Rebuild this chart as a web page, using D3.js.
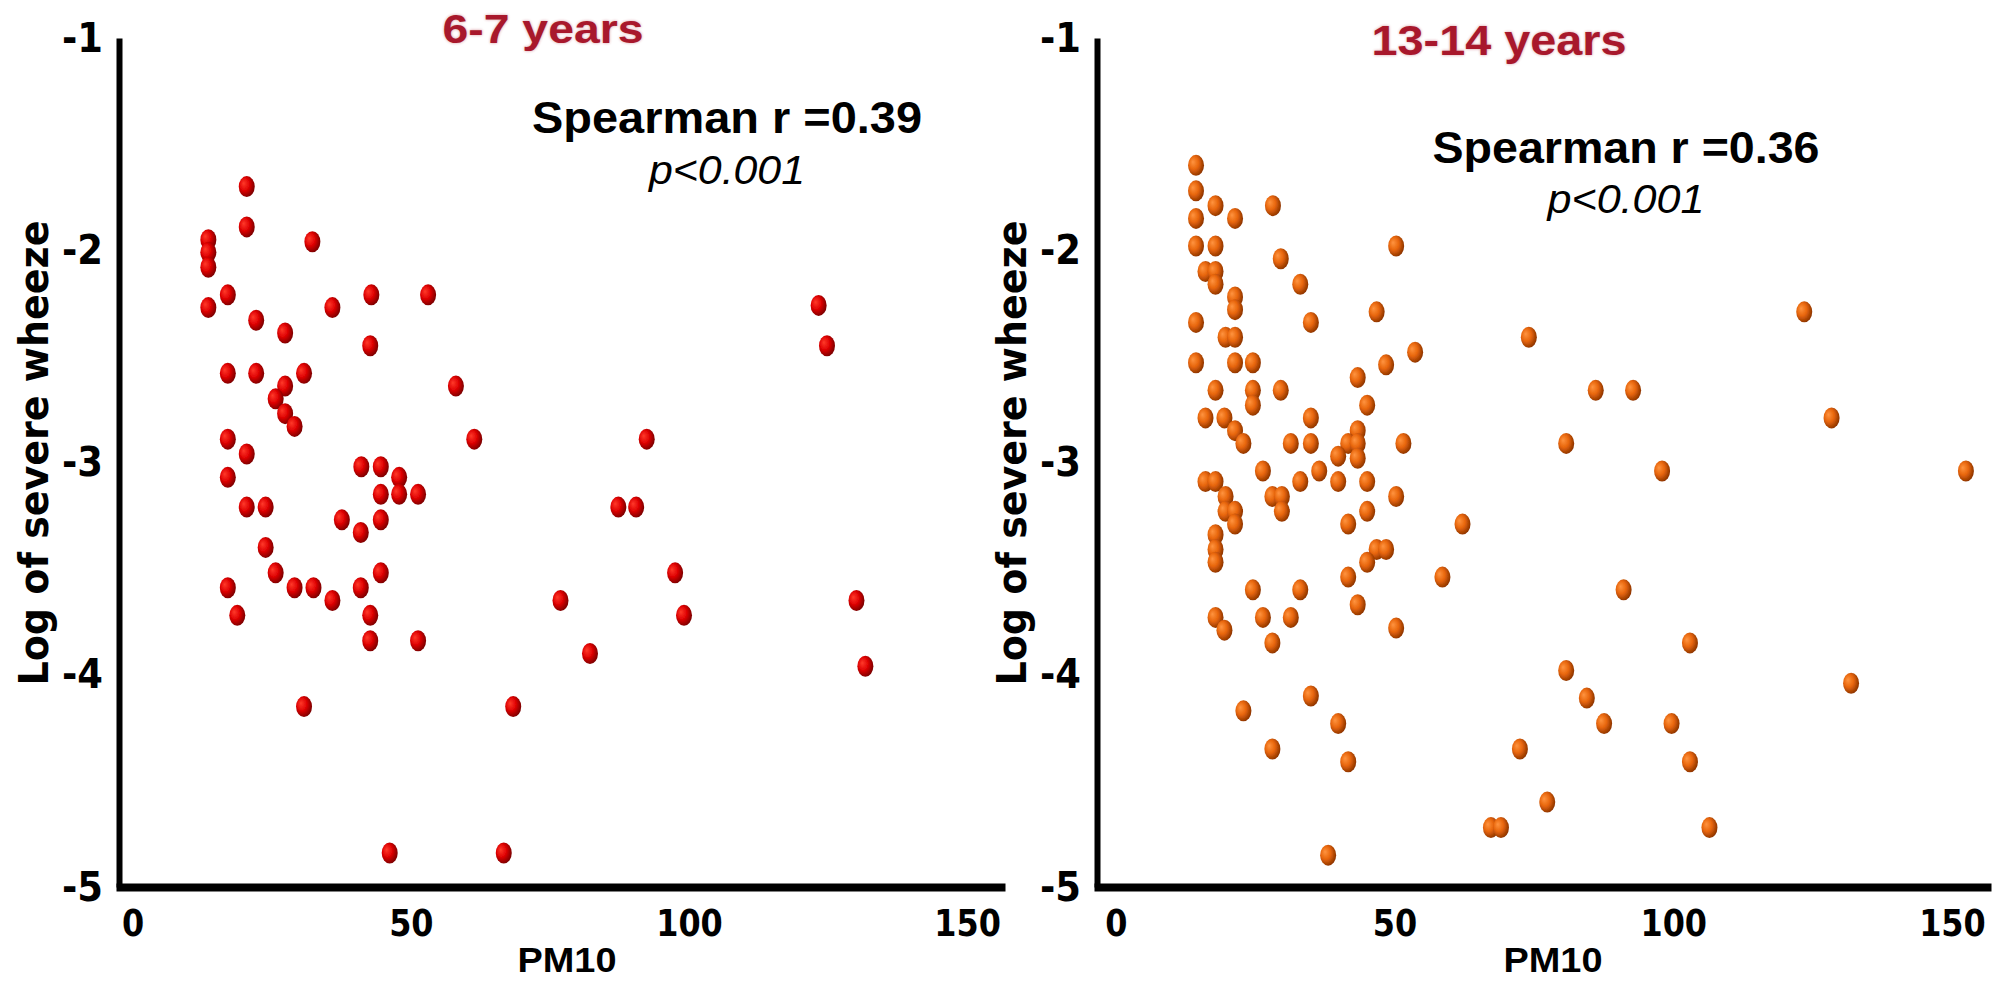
<!DOCTYPE html>
<html>
<head>
<meta charset="utf-8">
<script src="https://cdn.jsdelivr.net/npm/d3@7/dist/d3.min.js"></script>
<style>
  html, body { margin: 0; padding: 0; background: #ffffff; }
  svg { display: block; }
</style>
</head>
<body>
<svg id="chart" width="2005" height="984"></svg>
<script>
// PM10 against log of severe wheeze, two age groups

const panelTitles = ["6-7 years", "13-14 years"];
const spearmanLabels = ["Spearman r =0.39", "Spearman r =0.36"];
const pLabels = ["p<0.001", "p<0.001"];
const xTicks = [0, 50, 100, 150];
const yTicks = [-1, -2, -3, -4, -5];
const xTitle = "PM10";
const yTitle = "Log of severe wheeze";

// 6-7 years
const pm10Young = [
  20.5, 20.5, 13.6, 13.6, 13.6, 32.3, 17.1, 13.6, 42.9, 53.1,
  35.9, 22.2, 27.4, 42.7, 123.3, 124.8, 17.1, 22.2, 30.8, 27.4,
  25.7, 27.4, 29.1, 58.1, 17.1, 61.4, 92.4, 20.5, 41.1, 44.6,
  47.9, 17.1, 44.6, 47.9, 51.3, 20.5, 23.9, 87.3, 90.5, 37.6,
  44.6, 41.0, 23.9, 44.6, 25.7, 97.5, 17.1, 29.1, 32.5, 41.0,
  35.9, 76.9, 130.1, 18.8, 42.7, 99.1, 42.7, 51.3, 82.2, 131.7,
  30.8, 68.4, 46.2, 66.7
];
const wheezeYoung = [
  -1.70, -1.89, -1.95, -2.01, -2.08, -1.96, -2.21, -2.27, -2.21, -2.21,
  -2.27, -2.33, -2.39, -2.45, -2.26, -2.45, -2.58, -2.58, -2.58, -2.64,
  -2.70, -2.77, -2.83, -2.64, -2.89, -2.89, -2.89, -2.96, -3.02, -3.02,
  -3.07, -3.07, -3.15, -3.15, -3.15, -3.21, -3.21, -3.21, -3.21, -3.27,
  -3.27, -3.33, -3.40, -3.52, -3.52, -3.52, -3.59, -3.59, -3.59, -3.59,
  -3.65, -3.65, -3.65, -3.72, -3.72, -3.72, -3.84, -3.84, -3.90, -3.96,
  -4.15, -4.15, -4.84, -4.84
];

// 13-14 years
const pm10Teen = [
  14.4, 14.4, 17.9, 28.2, 14.4, 21.4, 14.4, 17.9, 50.3, 29.6,
  16.1, 17.9, 17.9, 33.1, 21.4, 21.4, 46.8, 123.5, 14.4, 35.0,
  19.7, 21.4, 74.1, 53.7, 14.4, 21.4, 24.6, 48.5, 43.4, 17.9,
  24.6, 29.6, 86.1, 92.8, 24.6, 45.1, 16.1, 19.5, 35.0, 128.4,
  21.4, 43.4, 22.9, 31.4, 35.0, 41.7, 43.4, 51.6, 80.8, 39.9,
  43.4, 26.4, 36.5, 98.0, 152.5, 16.1, 17.9, 33.1, 39.9, 45.1,
  19.7, 28.1, 29.8, 50.3, 19.7, 21.4, 29.8, 45.1, 21.4, 41.7,
  62.2, 17.9, 17.9, 46.8, 48.5, 17.9, 45.1, 41.7, 58.6, 24.6,
  33.1, 91.1, 43.4, 17.9, 26.4, 31.4, 19.5, 50.3, 28.1, 103.0,
  80.8, 131.9, 35.0, 84.5, 22.9, 39.9, 87.6, 99.7, 28.1, 72.5,
  41.7, 103.0, 77.4, 67.3, 69.1, 106.5, 38.1
];
const wheezeTeen = [
  -1.60, -1.72, -1.79, -1.79, -1.85, -1.85, -1.98, -1.98, -1.98, -2.04,
  -2.10, -2.10, -2.16, -2.16, -2.22, -2.28, -2.29, -2.29, -2.34, -2.34,
  -2.41, -2.41, -2.41, -2.48, -2.53, -2.53, -2.53, -2.54, -2.60, -2.66,
  -2.66, -2.66, -2.66, -2.66, -2.73, -2.73, -2.79, -2.79, -2.79, -2.79,
  -2.85, -2.85, -2.91, -2.91, -2.91, -2.91, -2.91, -2.91, -2.91, -2.97,
  -2.98, -3.04, -3.04, -3.04, -3.04, -3.09, -3.09, -3.09, -3.09, -3.09,
  -3.16, -3.16, -3.16, -3.16, -3.23, -3.23, -3.23, -3.23, -3.29, -3.29,
  -3.29, -3.34, -3.41, -3.41, -3.41, -3.47, -3.47, -3.54, -3.54, -3.60,
  -3.60, -3.60, -3.67, -3.73, -3.73, -3.73, -3.79, -3.78, -3.85, -3.85,
  -3.98, -4.04, -4.10, -4.11, -4.17, -4.23, -4.23, -4.23, -4.35, -4.35,
  -4.41, -4.41, -4.60, -4.72, -4.72, -4.72, -4.85
];

const svg = d3.select("#chart");
const defs = svg.append("defs");

// Shaded ball look for the markers
function ballGradient(id, light, mid, dark) {
  const g = defs.append("radialGradient")
    .attr("id", id)
    .attr("cx", "0.40").attr("cy", "0.42").attr("r", "0.62")
    .attr("fx", "0.30").attr("fy", "0.34");
  g.append("stop").attr("offset", "0%").attr("stop-color", light);
  g.append("stop").attr("offset", "50%").attr("stop-color", mid);
  g.append("stop").attr("offset", "100%").attr("stop-color", dark);
}
ballGradient("ballRed", "#ff3a2a", "#e00404", "#780000");
ballGradient("ballOrange", "#ff9440", "#e8660c", "#8a3200");

defs.append("filter").attr("id", "soft")
  .attr("x", "-30%").attr("y", "-30%").attr("width", "160%").attr("height", "160%")
  .append("feGaussianBlur").attr("stdDeviation", 0.6);
defs.append("filter").attr("id", "glow")
  .attr("x", "-10%").attr("y", "-30%").attr("width", "120%").attr("height", "160%")
  .append("feGaussianBlur").attr("stdDeviation", 1.8);

const narrow = "'Liberation Sans Narrow', 'Arial Narrow', 'Liberation Sans', Arial, sans-serif";
const wide = "'DejaVu Sans', Verdana, sans-serif";
const plainNumber = d => String(d);   // plain hyphen-minus, no decimals

// squeeze a text horizontally to a share of its natural width
function squeeze(sel, factor) {
  sel.each(function () {
    const len = this.getComputedTextLength();
    d3.select(this).attr("textLength", len * factor).attr("lengthAdjust", "spacingAndGlyphs");
  });
}

const yScale = d3.scaleLinear().domain([-5, -1]).range([887, 38]);

const panels = [
  {
    px: pm10Young, wz: wheezeYoung, fill: "url(#ballRed)",
    xDomain: [-3, 156.8], xRange: [116, 1005], axisX: 119,
    title: panelTitles[0], titleX: 543, titleY: 43, titleSize: 40, titleLen: 201,
    rText: spearmanLabels[0], rX: 727, rY: 133, rLen: 390,
    pText: pLabels[0], pY: 184, pLen: 156,
    xTitleX: 567, yTitleX: 48
  },
  {
    px: pm10Teen, wz: wheezeTeen, fill: "url(#ballOrange)",
    xDomain: [-3.9, 157], xRange: [1094, 1991], axisX: 1097,
    title: panelTitles[1], titleX: 1499, titleY: 55, titleSize: 42, titleLen: 255,
    rText: spearmanLabels[1], rX: 1626, rY: 163, rLen: 387,
    pText: pLabels[1], pY: 213, pLen: 157,
    xTitleX: 1553, yTitleX: 1026
  }
];

panels.forEach(p => {
  const x = d3.scaleLinear().domain(p.xDomain).range(p.xRange);
  const g = svg.append("g");

  // x axis
  const xAxis = g.append("g")
    .attr("transform", `translate(0,${yScale(-5)})`)
    .call(d3.axisBottom(x).tickValues(xTicks).tickFormat(plainNumber)
      .tickSize(0).tickSizeOuter(0).tickPadding(22));
  xAxis.select(".domain").attr("stroke", "#000").attr("stroke-width", 8);
  xAxis.selectAll(".tick text")
    .attr("fill", "#000")
    .style("font-family", wide).style("font-weight", "bold").style("font-size", "38px")
    .call(squeeze, 0.84);

  // y axis
  const yAxis = g.append("g")
    .attr("transform", `translate(${p.axisX},0)`)
    .call(d3.axisLeft(yScale).tickValues(yTicks).tickFormat(plainNumber)
      .tickSize(0).tickSizeOuter(0).tickPadding(16));
  yAxis.select(".domain").attr("stroke", "#000").attr("stroke-width", 6);
  yAxis.selectAll(".tick text")
    .attr("fill", "#000")
    .style("font-family", wide).style("font-weight", "bold").style("font-size", "41px")
    .call(squeeze, 0.9);

  // markers
  g.append("g").attr("filter", "url(#soft)")
    .selectAll("ellipse")
    .data(d3.range(p.px.length))
    .join("ellipse")
    .attr("cx", i => x(p.px[i]))
    .attr("cy", i => yScale(p.wz[i]))
    .attr("rx", 8)
    .attr("ry", 10.5)
    .attr("fill", p.fill);

  // panel title with a soft halo
  [true, false].forEach(halo => {
    g.append("text")
      .attr("x", p.titleX).attr("y", p.titleY)
      .attr("text-anchor", "middle")
      .attr("textLength", p.titleLen).attr("lengthAdjust", "spacingAndGlyphs")
      .attr("fill", "#a8182c")
      .attr("opacity", halo ? 0.45 : 1)
      .attr("filter", halo ? "url(#glow)" : null)
      .style("font-family", narrow).style("font-weight", "bold")
      .style("font-size", p.titleSize + "px")
      .text(p.title);
  });

  // correlation annotation
  g.append("text")
    .attr("x", p.rX).attr("y", p.rY)
    .attr("text-anchor", "middle")
    .attr("textLength", p.rLen).attr("lengthAdjust", "spacingAndGlyphs")
    .style("font-family", narrow).style("font-weight", "bold").style("font-size", "44px")
    .text(p.rText);
  g.append("text")
    .attr("x", p.rX).attr("y", p.pY)
    .attr("text-anchor", "middle")
    .attr("textLength", p.pLen).attr("lengthAdjust", "spacingAndGlyphs")
    .style("font-family", narrow).style("font-style", "italic").style("font-size", "40px")
    .text(p.pText);

  // axis titles
  g.append("text")
    .attr("x", p.xTitleX).attr("y", 972)
    .attr("text-anchor", "middle")
    .attr("textLength", 99).attr("lengthAdjust", "spacingAndGlyphs")
    .style("font-family", narrow).style("font-weight", "bold").style("font-size", "35px")
    .text(xTitle);
  g.append("text")
    .attr("transform", `translate(${p.yTitleX},453) rotate(-90)`)
    .attr("text-anchor", "middle")
    .attr("textLength", 465).attr("lengthAdjust", "spacingAndGlyphs")
    .style("font-family", wide).style("font-weight", "bold").style("font-size", "40px")
    .text(yTitle);
});
</script>
</body>
</html>
